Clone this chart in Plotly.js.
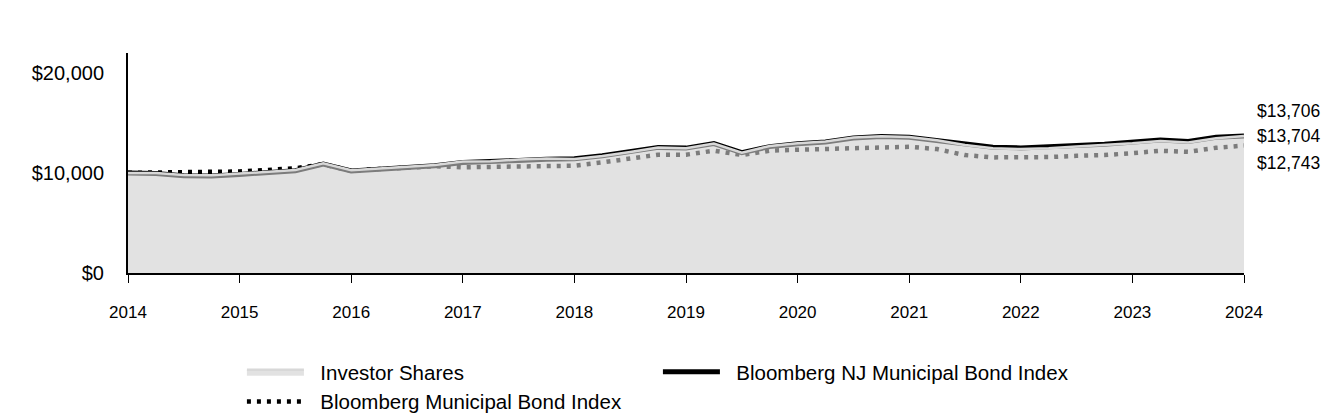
<!DOCTYPE html>
<html>
<head>
<meta charset="utf-8">
<script src="https://cdn.plot.ly/plotly-3.0.1.min.js"></script>
<style>
html,body{margin:0;padding:0;background:#fff;}
#chart{width:1344px;height:420px;}
</style>
</head>
<body>
<div id="chart"></div>
<script>
// Quarter-end positions (decimal years)
const quarters = [
  2014.00, 2014.25, 2014.50, 2014.75,
  2015.00, 2015.25, 2015.50, 2015.75,
  2016.00, 2016.25, 2016.50, 2016.75,
  2017.00, 2017.25, 2017.50, 2017.75,
  2018.00, 2018.25, 2018.50, 2018.75,
  2019.00, 2019.25, 2019.50, 2019.75,
  2020.00, 2020.25, 2020.50, 2020.75,
  2021.00, 2021.25, 2021.50, 2021.75,
  2022.00, 2022.25, 2022.50, 2022.75,
  2023.00, 2023.25, 2023.50, 2023.75,
  2024.00
];

const investorShares = [
  10000, 10000, 9800, 9770,
  9940, 10100, 10300, 10970,
  10270, 10440, 10640, 10800,
  11140, 11180, 11340, 11440,
  11400, 11700, 12100, 12540,
  12470, 12940, 12040, 12700,
  12970, 13140, 13550, 13670,
  13600, 13270, 12800, 12470,
  12400, 12470, 12640, 12770,
  12970, 13200, 13040, 13470,
  13704
];

const njIndex = [
  10000, 9950, 9720, 9690,
  9860, 10020, 10220, 10900,
  10200, 10370, 10570, 10730,
  11060, 11100, 11260, 11380,
  11420, 11720, 12120, 12560,
  12490, 12950, 12040, 12640,
  12920, 13100, 13500, 13640,
  13570, 13250, 12900, 12570,
  12510, 12570, 12750, 12880,
  13080, 13310, 13150, 13580,
  13706
];

const muniIndex = [
  10020, 10050, 9990, 10010,
  10150, 10310, 10480, 10870,
  10220, 10390, 10590, 10680,
  10570, 10600, 10660, 10730,
  10730, 11060, 11460, 11830,
  11830, 12230, 11800, 12230,
  12330, 12400, 12530, 12620,
  12620, 12390, 11790, 11560,
  11560, 11590, 11720, 11790,
  11990, 12220, 12120, 12520,
  12743
];

const yTickVals = [0, 10000, 20000];
const yTickText = ['$0', '$10,000', '$20,000'];
const xTickVals = [2014, 2015, 2016, 2017, 2018, 2019, 2020, 2021, 2022, 2023, 2024];
const xTickText = ['2014', '2015', '2016', '2017', '2018', '2019', '2020', '2021', '2022', '2023', '2024'];

const seriesNames = ['Investor Shares', 'Bloomberg NJ Municipal Bond Index', 'Bloomberg Municipal Bond Index'];

const FONT = 'Arial, "Liberation Sans", sans-serif';
const GAP = '\u00a0\u00a0';

function fmt(v) { return '$' + v.toLocaleString('en-US'); }

const traces = [
  {
    x: quarters, y: muniIndex, name: GAP + seriesNames[2], type: 'scatter', mode: 'lines',
    line: {color: '#000000', width: 4.5, dash: '4px,6px'},
    legendrank: 3, hoverinfo: 'skip'
  },
  {
    x: quarters, y: njIndex, name: GAP + seriesNames[1], type: 'scatter', mode: 'lines',
    line: {color: '#000000', width: 5},
    legendrank: 2, hoverinfo: 'skip'
  },
  {
    x: quarters, y: investorShares, name: GAP + seriesNames[0], type: 'scatter', mode: 'lines',
    fill: 'tozeroy', fillcolor: 'rgba(207,207,207,0.6)',
    line: {color: '#d8d8d8', width: 2.5},
    legendrank: 1, hoverinfo: 'skip'
  }
];

const last = quarters.length - 1;
const annotations = [
  {x: 1, xref: 'paper', xanchor: 'left', xshift: 11, y: njIndex[last], yref: 'y', yshift: 25,
   text: fmt(njIndex[last]), showarrow: false, font: {family: FONT, size: 17.5, color: '#000'}},
  {x: 1, xref: 'paper', xanchor: 'left', xshift: 11, y: investorShares[last], yref: 'y', yshift: 0,
   text: fmt(investorShares[last]), showarrow: false, font: {family: FONT, size: 17.5, color: '#000'}},
  {x: 1, xref: 'paper', xanchor: 'left', xshift: 11, y: muniIndex[last], yref: 'y', yshift: -17,
   text: fmt(muniIndex[last]), showarrow: false, font: {family: FONT, size: 17.5, color: '#000'}}
];

const layout = {
  width: 1344, height: 420,
  margin: {l: 128, r: 100, t: 53, b: 147, pad: 0},
  paper_bgcolor: '#ffffff', plot_bgcolor: '#ffffff',
  font: {family: FONT, color: '#000'},
  showlegend: true,
  legend: {
    orientation: 'h', xref: 'container', yref: 'container',
    x: 0.18, xanchor: 'left', y: 0.162, yanchor: 'top',
    font: {family: FONT, size: 20.5, color: '#000'},
    entrywidth: 344, entrywidthmode: 'pixels', itemwidth: 57,
    traceorder: 'normal', bgcolor: 'rgba(0,0,0,0)'
  },
  xaxis: {
    range: [2014, 2024], tickvals: xTickVals, ticktext: xTickText,
    showgrid: false, zeroline: false, showline: true, linecolor: '#000', linewidth: 2,
    ticks: 'outside', ticklen: 8, tickwidth: 1, tickcolor: '#000',
    ticklabelstandoff: 15, tickfont: {family: FONT, size: 17, color: '#000'},
    layer: 'below traces', fixedrange: true
  },
  yaxis: {
    range: [0, 22000], tickvals: yTickVals, ticktext: yTickText,
    showgrid: false, zeroline: false, showline: true, linecolor: '#000', linewidth: 2,
    ticks: '', ticklabelstandoff: 18, tickfont: {family: FONT, size: 20, color: '#000'},
    layer: 'below traces', fixedrange: true
  },
  annotations: annotations
};

Plotly.newPlot('chart', traces, layout, {displayModeBar: false, staticPlot: true});
</script>
</body>
</html>
